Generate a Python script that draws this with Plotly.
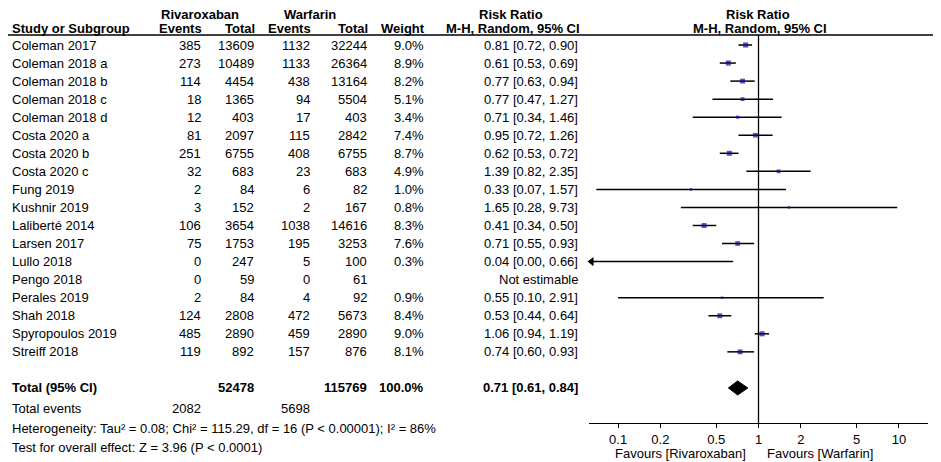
import math
import plotly.graph_objects as go

# ---------------- data ----------------
studies = ["Coleman 2017", "Coleman 2018 a", "Coleman 2018 b", "Coleman 2018 c",
           "Coleman 2018 d", "Costa 2020 a", "Costa 2020 b", "Costa 2020 c",
           "Fung 2019", "Kushnir 2019", "Laliberté 2014", "Larsen 2017",
           "Lullo 2018", "Pengo 2018", "Perales 2019", "Shah 2018",
           "Spyropoulos 2019", "Streiff 2018"]
riv_events = [385, 273, 114, 18, 12, 81, 251, 32, 2, 3, 106, 75, 0, 0, 2, 124, 485, 119]
riv_total = [13609, 10489, 4454, 1365, 403, 2097, 6755, 683, 84, 152, 3654, 1753, 247, 59, 84, 2808, 2890, 892]
war_events = [1132, 1133, 438, 94, 17, 115, 408, 23, 6, 2, 1038, 195, 5, 0, 4, 472, 459, 157]
war_total = [32244, 26364, 13164, 5504, 403, 2842, 6755, 683, 82, 167, 14616, 3253, 100, 61, 92, 5673, 2890, 876]
weight = [9.0, 8.9, 8.2, 5.1, 3.4, 7.4, 8.7, 4.9, 1.0, 0.8, 8.3, 7.6, 0.3, None, 0.9, 8.4, 9.0, 8.1]
rr = [0.81, 0.61, 0.77, 0.77, 0.71, 0.95, 0.62, 1.39, 0.33, 1.65, 0.41, 0.71, 0.04, None, 0.55, 0.53, 1.06, 0.74]
rr_lo = [0.72, 0.53, 0.63, 0.47, 0.34, 0.72, 0.53, 0.82, 0.07, 0.28, 0.34, 0.55, 0.00, None, 0.10, 0.44, 0.94, 0.60]
rr_hi = [0.90, 0.69, 0.94, 1.27, 1.46, 1.26, 0.72, 2.35, 1.57, 9.73, 0.50, 0.93, 0.66, None, 2.91, 0.64, 1.19, 0.93]

total_riv_n = 52478
total_war_n = 115769
total_weight = "100.0%"
total_rr, total_lo, total_hi = 0.71, 0.61, 0.84
total_riv_events = 2082
total_war_events = 5698
heterogeneity = "Heterogeneity: Tau² = 0.08; Chi² = 115.29, df = 16 (P < 0.00001); I² = 86%"
overall_test = "Test for overall effect: Z = 3.96 (P < 0.0001)"

tick_vals = [0.1, 0.2, 0.5, 1, 2, 5, 10]
tick_text = ["0.1", "0.2", "0.5", "1", "2", "5", "10"]

# ---------------- layout helpers ----------------
W, H = 941, 462
OFF = 8  # page body margin of the browser
ROW0_PX, ROW_STEP = 45.0, 18.05


def py(pix):
    """page pixel row -> y data units (row index)"""
    return (pix - ROW0_PX) / ROW_STEP


def px(pix):
    """page pixel column -> paper fraction"""
    return (pix - OFF) / W


XLOG_MIN, XLOG_MAX = -1.207, 1.207
FONT = "Liberation Sans, Arial, sans-serif"
FS = 13
BLUE = "#0b0b9a"
HEAD1_PX, HEAD2_PX, RULE_PX = 14.0, 28.5, 35.0
AXIS_PX = 423

fig = go.Figure()

n = len(studies)
rows = list(range(n))
total_row = n + 1

# CI lines
cx, cy = [], []
arrow_x, arrow_y = [], []
xmin_val = 10 ** XLOG_MIN
for i in rows:
    if rr[i] is None:
        continue
    lo = rr_lo[i]
    if lo <= xmin_val:
        lo = xmin_val
        arrow_x.append(10 ** (XLOG_MIN + 0.018))
        arrow_y.append(i)
    cx += [lo, rr_hi[i], None]
    cy += [i, i, None]
fig.add_trace(go.Scatter(x=cx, y=cy, mode="lines", line=dict(color="black", width=1.5),
                         hoverinfo="skip", showlegend=False, cliponaxis=False))
fig.add_trace(go.Scatter(x=arrow_x, y=arrow_y, mode="markers",
                         marker=dict(symbol="triangle-left", size=8, color="black"),
                         hoverinfo="skip", showlegend=False, cliponaxis=False))

# squares
sx, sy, ss = [], [], []
for i in rows:
    if rr[i] is None or rr[i] < xmin_val:
        continue
    sx.append(rr[i]); sy.append(i)
    ss.append(max(2.5, 1.7 * math.sqrt(weight[i])))
fig.add_trace(go.Scatter(x=sx, y=sy, mode="markers",
                         marker=dict(symbol="square", size=ss, color=BLUE, line=dict(width=0)),
                         hoverinfo="skip", showlegend=False))

# diamond
dh = 7 / ROW_STEP
fig.add_trace(go.Scatter(x=[total_lo, total_rr, total_hi, total_rr, total_lo],
                         y=[total_row, total_row - dh, total_row, total_row + dh, total_row],
                         mode="lines", fill="toself", fillcolor="black",
                         line=dict(color="black", width=1), hoverinfo="skip", showlegend=False))

# vertical line of no effect
fig.add_trace(go.Scatter(x=[1, 1], y=[py(RULE_PX), py(AXIS_PX)], mode="lines",
                         line=dict(color="black", width=1.3), hoverinfo="skip",
                         showlegend=False, cliponaxis=False))

ann = []


def txt(x, y, s, anchor="left", bold=False, size=FS, yref="y"):
    ann.append(dict(x=px(x), y=y, xref="paper", yref=yref, text=f"<b>{s}</b>" if bold else s,
                    showarrow=False, xanchor=anchor, yanchor="middle", borderpad=0,
                    font=dict(family=FONT, size=size, color="black")))


# headers
hy1, hy2 = py(HEAD1_PX), py(HEAD2_PX)
txt(200, hy1, "Rivaroxaban", "center", True)
txt(310, hy1, "Warfarin", "center", True)
txt(511, hy1, "Risk Ratio", "center", True)
txt(758, hy1, "Risk Ratio", "center", True)
txt(11, hy2, "Study or Subgroup", "left", True)
txt(203, hy2, "Events", "right", True)
txt(256, hy2, "Total", "right", True)
txt(312, hy2, "Events", "right", True)
txt(369, hy2, "Total", "right", True)
txt(426, hy2, "Weight", "right", True)
txt(513, hy2, "M-H, Random, 95% CI", "center", True)
txt(760, hy2, "M-H, Random, 95% CI", "center", True)

for i in rows:
    txt(11, i, studies[i])
    txt(202, i, str(riv_events[i]), "right")
    txt(255, i, str(riv_total[i]), "right")
    txt(311, i, str(war_events[i]), "right")
    txt(368, i, str(war_total[i]), "right")
    if weight[i] is not None:
        txt(425, i, f"{weight[i]:.1f}%", "right")
    if rr[i] is None:
        txt(579, i, "Not estimable", "right")
    else:
        txt(579, i, f"{rr[i]:.2f} [{rr_lo[i]:.2f}, {rr_hi[i]:.2f}]", "right")

txt(11, total_row, "Total (95% CI)", "left", True)
txt(255, total_row, str(total_riv_n), "right", True)
txt(368, total_row, str(total_war_n), "right", True)
txt(425, total_row, total_weight, "right", True)
txt(579, total_row, f"{total_rr:.2f} [{total_lo:.2f}, {total_hi:.2f}]", "right", True)

txt(11, py(408), "Total events")
txt(202, py(408), str(total_riv_events), "right")
txt(311, py(408), str(total_war_events), "right")
txt(11, py(428), heterogeneity)
txt(11, py(447), overall_test)

txt(680, py(453), "Favours [Rivaroxaban]", "center")
txt(820, py(453), "Favours [Warfarin]", "center")

fig.update_layout(
    width=W, height=H, margin=dict(l=0, r=0, t=0, b=0),
    paper_bgcolor="white", plot_bgcolor="white",
    annotations=ann,
    shapes=[dict(type="line", xref="paper", yref="y", x0=0, x1=1, y0=py(RULE_PX), y1=py(RULE_PX),
                 line=dict(color="black", width=1.3))],
    xaxis=dict(type="log", range=[XLOG_MIN, XLOG_MAX], domain=[px(589), px(928)],
               anchor="free", position=1 - (AXIS_PX - OFF) / H,
               showgrid=False, zeroline=False, showline=True, linecolor="black", linewidth=1.3,
               ticks="outside", ticklen=4, tickwidth=1.3, tickcolor="black",
               tickvals=tick_vals, ticktext=tick_text,
               tickfont=dict(family=FONT, size=FS, color="black")),
    yaxis=dict(range=[py(H + OFF), py(OFF)], domain=[0, 1], visible=False, showgrid=False,
               zeroline=False),
)

fig.write_html("out.html")
